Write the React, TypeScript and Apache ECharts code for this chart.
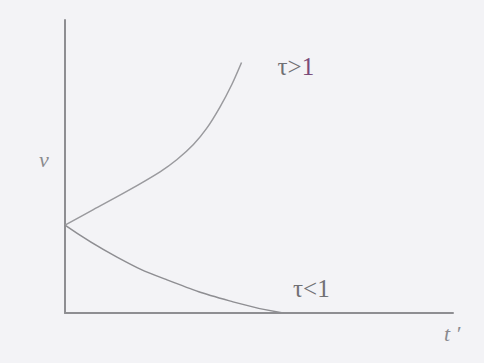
import React, { useEffect, useRef } from "react";
import * as echarts from "echarts";

// Curve samples [t', v] in axis units (x: 0..100, y: 0..100)
const upperCurve: [number, number][] = [
  [0, 30.0], [7.3, 35.3], [15.9, 41.5], [24.5, 48.2], [28.8, 52.3],
  [33.1, 57.5], [36.5, 63.0], [39.9, 70.2], [43.0, 78.0], [45.5, 85.5],
];
const lowerCurve: [number, number][] = [
  [0, 30.0], [13.4, 19.1], [26.3, 11.3], [43.3, 3.8], [56.2, 0],
];
const upperLabel = "τ>";
const upperLabelOne = "1";
const lowerLabel = "τ<1";
const yName = "v";
const xName = "t ′";

export default function App() {
  const ref = useRef<HTMLDivElement>(null);
  useEffect(() => {
    document.body.style.margin = "0";
    const chart = echarts.init(ref.current!, null, { renderer: "svg" });
    const serif = "Liberation Serif";
    chart.setOption({
      animation: false,
      backgroundColor: "#f3f3f6",
      grid: { left: 65, right: 31, top: 20, bottom: 50 },
      xAxis: {
        type: "value", min: 0, max: 100,
        axisLine: { show: true, lineStyle: { color: "#8e8e92", width: 2 } },
        axisTick: { show: false }, axisLabel: { show: false }, splitLine: { show: false },
      },
      yAxis: {
        type: "value", min: 0, max: 100,
        axisLine: { show: true, lineStyle: { color: "#8e8e92", width: 2 } },
        axisTick: { show: false }, axisLabel: { show: false }, splitLine: { show: false },
      },
      series: [
        {
          type: "line", data: upperCurve, smooth: 0.3, showSymbol: false,
          lineStyle: { color: "#9a9a9e", width: 1.5 },
          endLabel: {
            show: true, formatter: `{a|${upperLabel}}{b|${upperLabelOne}}`,
            offset: [28, 4],
            rich: {
              a: { fontFamily: serif, fontSize: 25, color: "#707074" },
              b: { fontFamily: serif, fontSize: 25, color: "#7a4a78" },
            },
          },
        },
        {
          type: "line", data: lowerCurve, smooth: true, showSymbol: false,
          lineStyle: { color: "#8e8e92", width: 1.5 },
          endLabel: {
            show: true, formatter: lowerLabel, offset: [2, -25],
            fontFamily: serif, fontSize: 25, color: "#707074",
          },
        },
      ],
      graphic: [
        { type: "text", left: 39, top: 148, style: { text: yName, font: `italic 22px ${serif}`, fill: "#8a8a8e" } },
        { type: "text", left: 444, top: 322, style: { text: xName, font: `italic 22px ${serif}`, fill: "#8a8a8e" } },
      ],
    });
    return () => chart.dispose();
  }, []);
  return <div ref={ref} style={{ position: "fixed", left: 0, top: 0, width: 484, height: 363 }} />;
}
